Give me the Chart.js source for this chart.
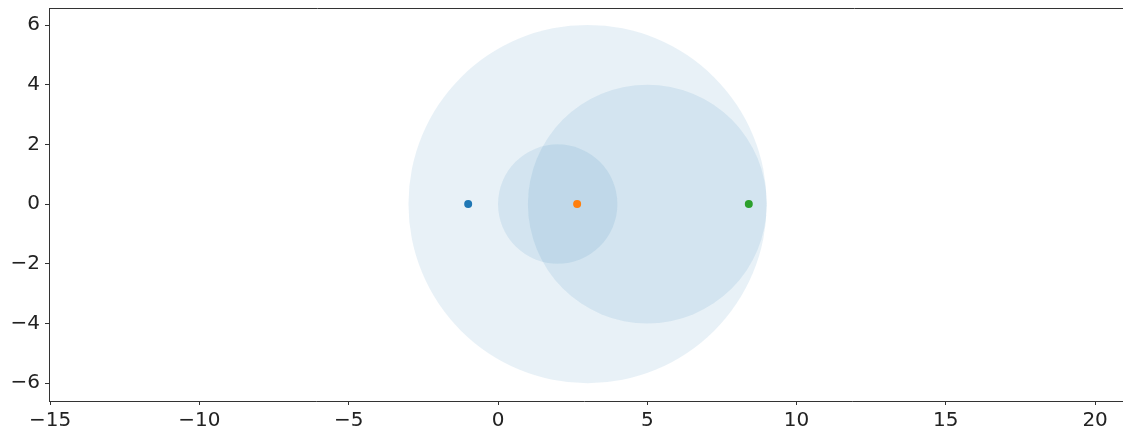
<!DOCTYPE html>
<html>
<head>
<meta charset="utf-8">
<script src="https://cdn.jsdelivr.net/npm/chart.js@4"></script>
<style>
  body { margin: 0; background: #fff; }
</style>
</head>
<body>
<canvas id="circleChart" width="1123" height="430"></canvas>
<script>
// circles (centre on y = 0, radius in data units)
var circleX = [3, 5, 2];
var circleY = [0, 0, 0];
var circleR = [6, 4, 2];

// the three dots
var dotX = [-1, 2.65, 8.4];
var dotY = [0, 0, 0];
var dotColors = ['#1f77b4', '#ff7f0e', '#2ca02c'];

var xTicks = [-15, -10, -5, 0, 5, 10, 15, 20];
var yTicks = [-6, -4, -2, 0, 2, 4, 6];

var datasets = [];

dotX.forEach(function (x, i) {
  datasets.push({
    type: 'scatter',
    data: [{ x: x, y: dotY[i] }],
    backgroundColor: dotColors[i],
    pointBorderWidth: 0,
    pointRadius: 4,
    pointHoverRadius: 4,
    order: 0
  });
});

circleX.forEach(function (x, i) {
  // radius given in data units, turned into pixels through the x scale
  var rad = function (ctx) {
    var s = ctx.chart.scales.x;
    return Math.abs(s.getPixelForValue(circleR[i]) - s.getPixelForValue(0));
  };
  datasets.push({
    type: 'scatter',
    data: [{ x: x, y: circleY[i] }],
    backgroundColor: 'rgba(31, 119, 180, 0.1)',
    pointBorderWidth: 0,
    pointRadius: rad,
    pointHoverRadius: rad,
    clip: false,
    order: 1
  });
});

// top spine, and both horizontal spines run out to the canvas edge
var spines = {
  id: 'spines',
  afterDraw: function (chart) {
    var a = chart.chartArea;
    var c = chart.ctx;
    c.save();
    c.strokeStyle = '#333';
    c.lineWidth = 1;
    c.beginPath();
    c.moveTo(a.left, a.top + 0.5);
    c.lineTo(chart.width, a.top + 0.5);
    c.moveTo(a.right - 1, a.bottom + 0.5);
    c.lineTo(chart.width, a.bottom + 0.5);
    c.stroke();
    c.restore();
  }
};

var font = { family: 'DejaVu Sans', size: 20 };
var minus = function (v) { return String(v).replace('-', '\u2212'); };

new Chart(document.getElementById('circleChart').getContext('2d'), {
  data: { datasets: datasets },
  plugins: [spines],
  options: {
    responsive: false,
    animation: false,
    events: [],
    layout: { padding: { top: 8, right: 0, left: 0, bottom: 0 } },
    plugins: {
      legend: { display: false },
      tooltip: { enabled: false }
    },
    scales: {
      x: {
        type: 'linear',
        min: -15.04,
        max: 20.8,
        afterBuildTicks: function (s) { s.ticks = xTicks.map(function (v) { return { value: v }; }); },
        afterFit: function (s) { s.height = 29; s.paddingLeft = 0; s.paddingRight = 0; },
        grid: { display: true, drawOnChartArea: false, tickLength: 4, tickColor: '#333' },
        border: { display: true, color: '#333', width: 1 },
        ticks: { font: font, color: '#222', padding: 4, maxRotation: 0, callback: minus }
      },
      y: {
        type: 'linear',
        min: -6.6,
        max: 6.57,
        afterBuildTicks: function (s) { s.ticks = yTicks.map(function (v) { return { value: v }; }); },
        afterFit: function (s) { s.width = 49; s.paddingTop = 0; s.paddingBottom = 0; },
        grid: { display: true, drawOnChartArea: false, tickLength: 4, tickColor: '#333' },
        border: { display: true, color: '#333', width: 1 },
        ticks: { font: font, color: '#222', padding: 5, callback: minus }
      }
    }
  }
});
</script>
</body>
</html>
